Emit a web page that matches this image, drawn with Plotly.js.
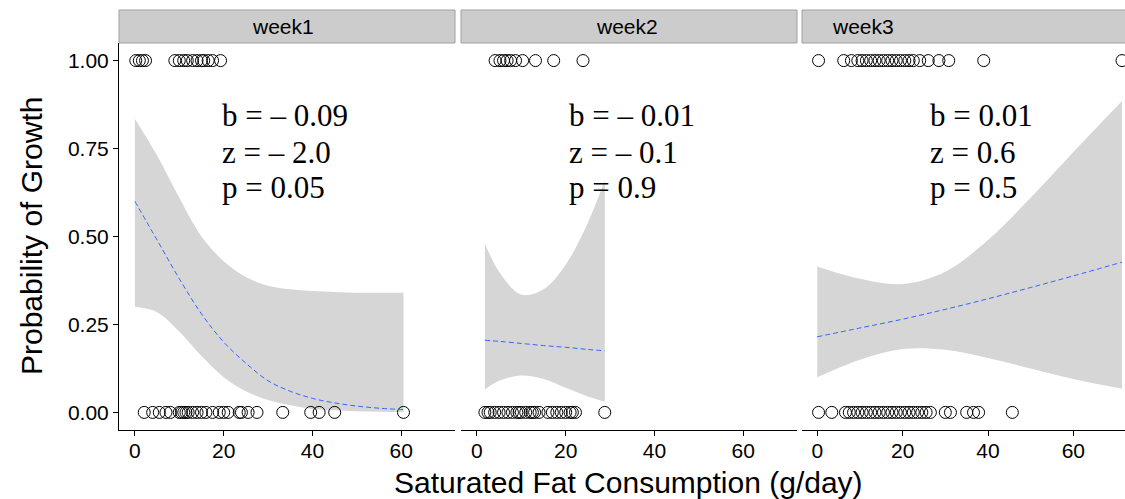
<!DOCTYPE html>
<html>
<head>
<meta charset="utf-8">
<script src="https://cdn.plot.ly/plotly-3.0.1.min.js"></script>
<style>html,body{margin:0;padding:0;overflow:hidden;background:#fff}</style>
</head>
<body>
<div id="chart" style="width:1125px;height:499px"></div>
<script>
// ---- data ----
const panels = ["week1", "week2", "week3"];

const week1_grow = [0.2, 1.0, 1.7, 2.4, 9, 10, 11, 11.8, 13, 14, 15, 15.5, 16.5, 17.5, 19.3];
const week1_none = [2.1, 4, 5.5, 7, 8, 10, 10.5, 11, 11.5, 12, 13, 14, 15, 16, 17.5, 19, 20, 21, 23.5, 24, 25.5, 27.5, 33.3, 39.6, 41.5, 45.0, 60.5];
const week2_grow = [4.1, 5.2, 6.0, 6.8, 7.6, 8.7, 10.3, 13.2, 17.3, 23.9];
const week2_none = [1.8, 2.5, 3, 4, 5, 6, 7, 8, 9, 9.5, 10, 11, 12, 12.5, 13, 14, 16, 17, 18, 19, 20, 21, 21.5, 22.2, 28.8];
const week3_grow = [0.3, 6.2, 8, 9.5, 10.5, 11.5, 12.5, 13.5, 14.5, 15.5, 16.5, 17.5, 18.5, 19.5, 20.5, 21.5, 22.5, 24, 26, 28.5, 30.8, 39, 71.4];
const week3_none = [0.3, 3.4, 6.6, 7.5, 8.5, 9.5, 10.5, 11.5, 12.5, 13.5, 14.5, 15.5, 16.5, 17.5, 18.5, 19.5, 20.5, 21.5, 22.5, 23.5, 24.5, 25.5, 26.5, 30, 31.2, 35, 36.6, 37.8, 45.7];

const fit1_x = [0, 5, 10, 15, 20, 25, 30, 35, 40, 45, 50, 55, 60.5];
const fit1_y = [0.60, 0.49, 0.38, 0.28, 0.20, 0.14, 0.09, 0.06, 0.04, 0.027, 0.018, 0.012, 0.008];
const fit1_hi = [0.835, 0.73, 0.61, 0.50, 0.43, 0.385, 0.36, 0.35, 0.345, 0.342, 0.34, 0.34, 0.34];
const fit1_lo = [0.30, 0.285, 0.23, 0.16, 0.10, 0.06, 0.035, 0.02, 0.01, 0.006, 0.003, 0.002, 0.001];

const fit2_x = [1.8, 5, 10, 15, 20, 25, 28.8];
const fit2_y = [0.205, 0.202, 0.196, 0.190, 0.185, 0.179, 0.175];
const fit2_hi = [0.48, 0.40, 0.335, 0.35, 0.42, 0.54, 0.66];
const fit2_lo = [0.065, 0.09, 0.105, 0.095, 0.07, 0.045, 0.03];

const fit3_x = [0, 10, 20, 30, 40, 50, 60, 71.4];
const fit3_y = [0.215, 0.24, 0.265, 0.293, 0.323, 0.355, 0.388, 0.427];
const fit3_hi = [0.415, 0.38, 0.365, 0.40, 0.49, 0.61, 0.74, 0.885];
const fit3_lo = [0.10, 0.15, 0.18, 0.178, 0.155, 0.125, 0.095, 0.067];

const stats1 = ["b = \u2013 0.09", "z = \u2013 2.0", "p = 0.05"];
const stats2 = ["b = \u2013 0.01", "z = \u2013 0.1", "p = 0.9"];
const stats3 = ["b = 0.01", "z = 0.6", "p = 0.5"];
const statsY = [0.845, 0.74, 0.638];
const statsX = [19.1, 20.4, 26.0];

const xTicks = [0, 20, 40, 60];
const yTicks = [0, 0.25, 0.5, 0.75, 1];
const yTickText = ["0.00", "0.25", "0.50", "0.75", "1.00"];

// ---- build ----
const groups = [
  {ax: "x",  grow: week1_grow, none: week1_none, fx: fit1_x, fy: fit1_y, hi: fit1_hi, lo: fit1_lo, stats: stats1},
  {ax: "x2", grow: week2_grow, none: week2_none, fx: fit2_x, fy: fit2_y, hi: fit2_hi, lo: fit2_lo, stats: stats2},
  {ax: "x3", grow: week3_grow, none: week3_none, fx: fit3_x, fy: fit3_y, hi: fit3_hi, lo: fit3_lo, stats: stats3}
];

const SANS = "Liberation Sans, Arial, sans-serif";
const traces = [];
const annotations = [];
groups.forEach((g, i) => {
  const px = g.grow.concat(g.none);
  const py = g.grow.map(() => 1).concat(g.none.map(() => 0));
  traces.push({
    type: "scatter", mode: "lines", x: g.fx, y: g.lo, xaxis: g.ax, yaxis: "y",
    line: {width: 0, color: "rgba(0,0,0,0)", shape: "spline"}, hoverinfo: "skip", showlegend: false
  });
  traces.push({
    type: "scatter", mode: "lines", x: g.fx, y: g.hi, xaxis: g.ax, yaxis: "y",
    fill: "tonexty", fillcolor: "#D6D6D6", line: {width: 0, color: "rgba(0,0,0,0)", shape: "spline"},
    hoverinfo: "skip", showlegend: false
  });
  traces.push({
    type: "scatter", mode: "markers", x: px, y: py, xaxis: g.ax, yaxis: "y",
    marker: {symbol: "circle-open", size: 12, color: "black", line: {width: 1, color: "black"}},
    cliponaxis: true, hoverinfo: "skip", showlegend: false
  });
  traces.push({
    type: "scatter", mode: "lines", x: g.fx, y: g.fy, xaxis: g.ax, yaxis: "y",
    line: {color: "#3366FF", width: 1, dash: "5px,3px", shape: "spline"},
    hoverinfo: "skip", showlegend: false
  });
  g.stats.forEach((s, k) => {
    annotations.push({
      xref: g.ax, yref: "y", x: statsX[i], y: statsY[k], text: s, showarrow: false,
      xanchor: "left", yanchor: "middle",
      font: {family: "Liberation Serif, Times New Roman, serif", size: 31, color: "black"}
    });
  });
});

const W = 1125, L = 119;
const pw = W - L;
const dom = [[0, (455 - L) / pw], [(461 - L) / pw, (797 - L) / pw], [(802 - L) / pw, 1]];
const stripTop = 1 + 33 / 387;
const shapes = [];
const stripCenters = [(283 - L) / pw, (627 - L) / pw, (863 - L) / pw];
dom.forEach((d, i) => {
  shapes.push({
    type: "rect", xref: "paper", yref: "paper", x0: d[0], x1: i === 2 ? 1.05 : d[1], y0: 1, y1: stripTop,
    fillcolor: "#CCCCCC", line: {color: "#A0A0A0", width: 1}, layer: "above"
  });
  annotations.push({
    xref: "paper", yref: "paper", x: stripCenters[i], y: (1 + stripTop) / 2, text: panels[i],
    showarrow: false, xanchor: "center", yanchor: "middle",
    font: {family: SANS, size: 21, color: "black"}
  });
});

function xax(d) {
  return {
    domain: d, anchor: "y", range: [-3.58, 72.1], tickvals: xTicks, ticktext: xTicks.map(String),
    showgrid: false, zeroline: false, showline: true, linecolor: "black", linewidth: 1,
    ticks: "outside", ticklen: 5, tickcolor: "black", tickwidth: 1, ticklabelstandoff: -3,
    tickfont: {family: SANS, size: 21, color: "black"}
  };
}

const layout = {
  width: W, height: 499, margin: {l: L, r: 0, t: 43, b: 69},
  paper_bgcolor: "white", plot_bgcolor: "white",
  xaxis: xax(dom[0]),
  xaxis2: xax(dom[1]),
  xaxis3: xax(dom[2]),
  yaxis: {
    domain: [0, 1], anchor: "x", range: [-0.05, 1.05], tickvals: yTicks, ticktext: yTickText,
    showgrid: false, zeroline: false, showline: true, linecolor: "black", linewidth: 1,
    ticks: "outside", ticklen: 5, tickcolor: "black",
    tickfont: {family: SANS, size: 21, color: "black"}
  },
  shapes: shapes, annotations: annotations, showlegend: false
};
annotations.push({
  xref: "paper", yref: "paper", x: (628 - L) / pw, y: (430 - 482) / 387, text: "Saturated Fat Consumption (g/day)",
  showarrow: false, xanchor: "center", yanchor: "middle",
  font: {family: SANS, size: 30, color: "black"}
});
annotations.push({
  xref: "paper", yref: "paper", x: (32 - L) / pw, y: (430 - 236) / 387, text: "Probability of Growth",
  textangle: -90, showarrow: false, xanchor: "center", yanchor: "middle",
  font: {family: SANS, size: 30, color: "black"}
});

Plotly.newPlot("chart", traces, layout, {displayModeBar: false, staticPlot: true});
</script>
</body>
</html>
